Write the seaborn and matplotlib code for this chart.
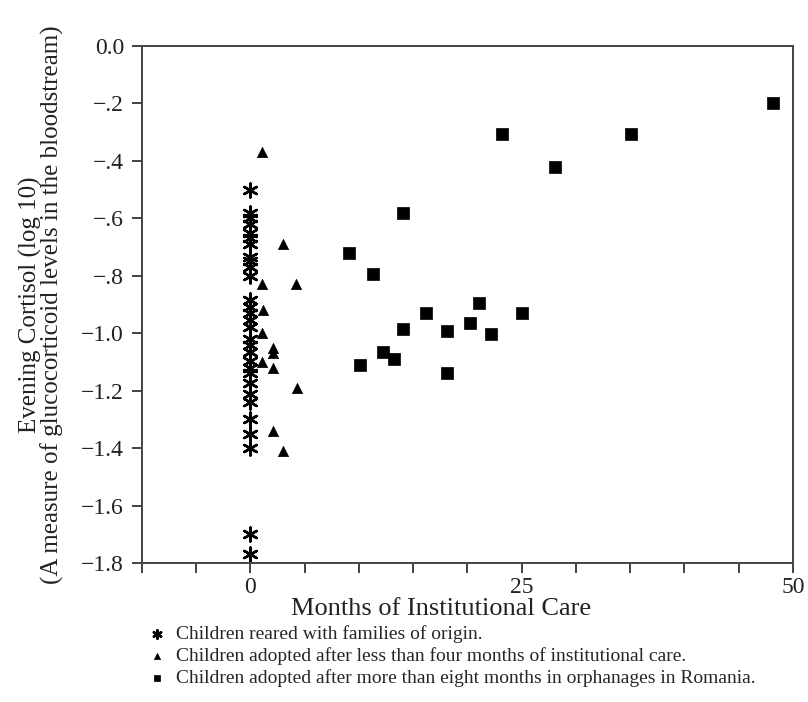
import pandas as pd
import matplotlib
matplotlib.use("Agg")
import matplotlib.pyplot as plt
import seaborn as sns

# children reared with families of origin (all at 0 months)
family_cortisol = [-0.50, -0.58, -0.60, -0.62, -0.65, -0.67, -0.69, -0.735,
                   -0.75, -0.77, -0.80, -0.885, -0.91, -0.93, -0.955, -0.98,
                   -1.02, -1.04, -1.065, -1.095, -1.12, -1.14, -1.175, -1.21,
                   -1.24, -1.30, -1.35, -1.40, -1.70, -1.77]
family_months = [0] * len(family_cortisol)

# adopted after less than four months
early_months = [1.1, 3.0, 1.1, 4.2, 1.2, 1.1, 2.1, 2.1, 1.1, 2.1, 4.3, 2.1, 3.0]
early_cortisol = [-0.37, -0.69, -0.83, -0.83, -0.92, -1.00, -1.05, -1.07,
                  -1.10, -1.12, -1.19, -1.34, -1.41]

# adopted after more than eight months in Romanian orphanages
late_months = [48.2, 23.2, 35.1, 28.1, 14.1, 9.1, 11.3, 21.1, 16.2, 25.0,
               14.1, 18.1, 20.2, 22.2, 12.2, 13.2, 10.1, 18.1]
late_cortisol = [-0.20, -0.305, -0.305, -0.42, -0.583, -0.719, -0.795, -0.896,
                 -0.93, -0.93, -0.986, -0.993, -0.965, -1.004, -1.066, -1.09,
                 -1.11, -1.14]

groups = [
    "Children reared with families of origin.",
    "Children adopted after less than four months of institutional care.",
    "Children adopted after more than eight months in orphanages in Romania.",
]

sns.set_style("ticks")
plt.rcParams["font.family"] = ["Liberation Serif", "DejaVu Serif"]

fig = plt.figure(figsize=(8.08, 7.02), dpi=100)
ax = fig.add_axes([0.1757, 0.198, 0.8057, 0.7365])

sns.scatterplot(x=family_months, y=family_cortisol, marker=(6, 2, 0), s=100,
                color="black", linewidth=1.8, label=groups[0], ax=ax)
sns.scatterplot(x=early_months, y=early_cortisol, marker="^", s=55,
                color="black", edgecolor="black", linewidth=0.5, label=groups[1], ax=ax)
sns.scatterplot(x=late_months, y=late_cortisol, marker="s", s=70,
                color="black", edgecolor="black", linewidth=0.5, label=groups[2], ax=ax)

ax.set_xlim(-10, 50)
ax.set_ylim(-1.8, 0.0)
ax.set_xticks(range(-10, 51, 5))
ax.set_xticklabels(["0" if t == 0 else "25" if t == 25 else "50" if t == 50 else ""
                    for t in range(-10, 51, 5)])
yt = [0.0, -0.2, -0.4, -0.6, -0.8, -1.0, -1.2, -1.4, -1.6, -1.8]
ylab = ["0.0", "\u2212.2", "\u2212.4", "\u2212.6", "\u2212.8",
        "\u22121.0", "\u22121.2", "\u22121.4", "\u22121.6", "\u22121.8"]
ax.set_yticks(yt)
ax.set_yticklabels(ylab)
ax.tick_params(axis="both", direction="out", length=7, width=1.2,
               labelsize=17, colors="#222222")
ax.tick_params(axis="x", pad=3)
ax.tick_params(axis="y", pad=6)

for sp in ax.spines.values():
    sp.set_visible(True)
    sp.set_color("#444444")
    sp.set_linewidth(1.4)

ax.set_xlabel("Months of Institutional Care", fontsize=19, color="#222222", labelpad=0)
ax.xaxis.label.set_x(0.46)
ax.set_ylabel("Evening Cortisol (log 10)\n(A measure of glucocorticoid levels in the bloodstream)",
              fontsize=18, color="#222222", labelpad=12, linespacing=0.95)

sns.move_legend(ax, "upper left", bbox_to_anchor=(0.182, 0.110),
                bbox_transform=fig.transFigure, frameon=False, title=None,
                fontsize=14, markerscale=0.6, handlelength=1.0,
                handletextpad=0.5, labelspacing=0.22, borderpad=0,
                borderaxespad=0)

fig.savefig("out.png", dpi=100)
